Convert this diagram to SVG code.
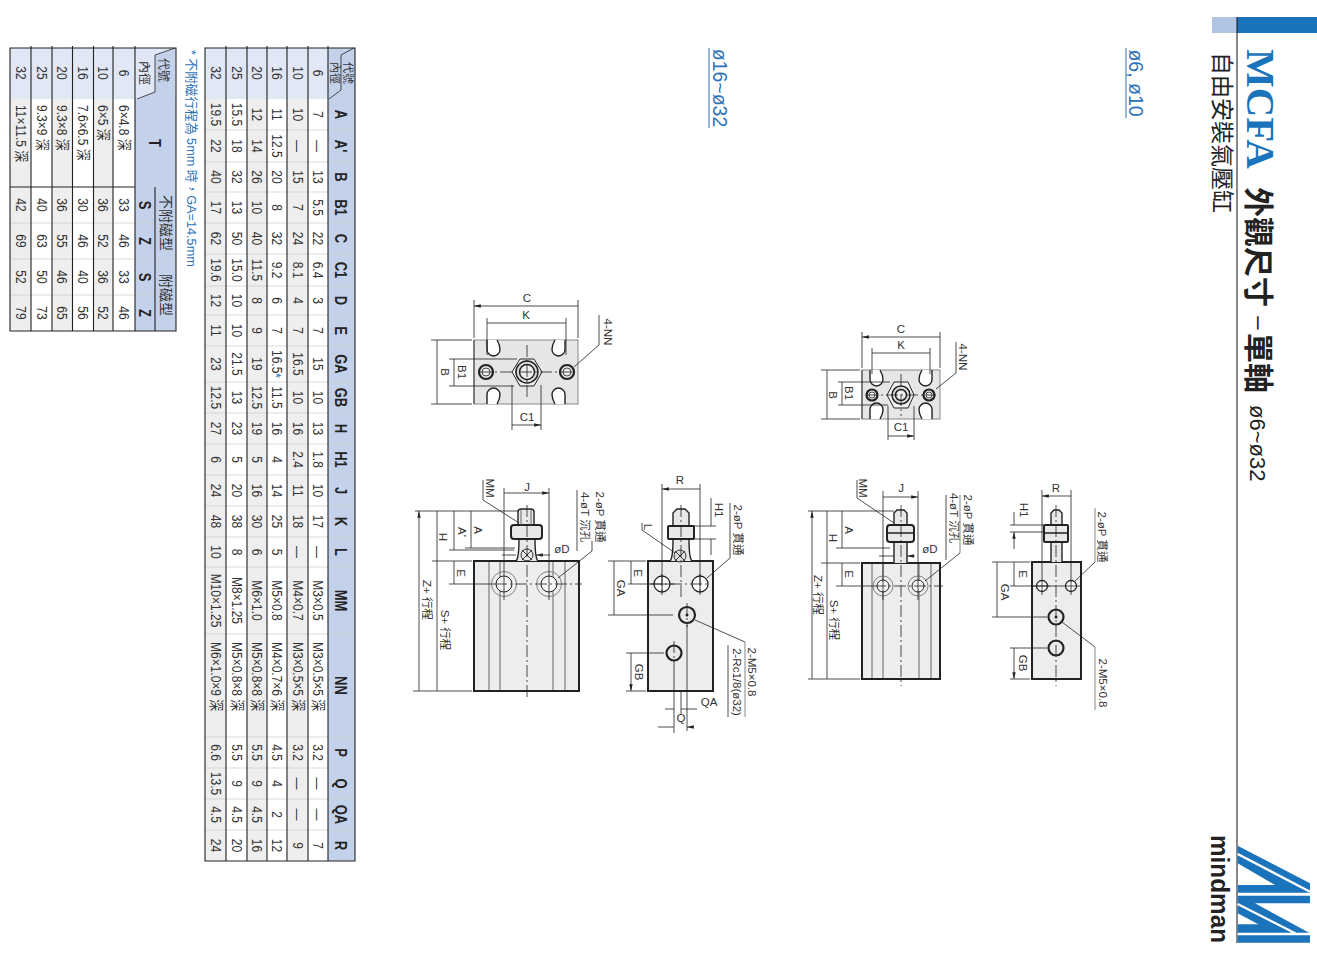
<svg xmlns="http://www.w3.org/2000/svg" xmlns:xlink="http://www.w3.org/1999/xlink" width="1317" height="968" viewBox="0 0 1317 968">
<style>
text{font-family:"Liberation Sans","Noto Sans CJK TC",sans-serif;fill:#333;text-anchor:middle;dominant-baseline:central}
.row text{font-size:12px}
.hd text{font-size:13px;font-weight:bold;fill:#222}
.st{text-anchor:start}
.l{font-size:11.5px;fill:#333}
.c{font-size:11.5px;fill:#333}
.d{stroke:#222;stroke-width:.8;fill:none}
.g{stroke:#999;stroke-width:1.2;fill:none}
.dm{stroke:#222;stroke-width:.8;fill:none;marker-start:url(#a);marker-end:url(#a)}
.e{stroke:#222;stroke-width:.8;fill:none;marker-end:url(#a)}
.cl{stroke:#222;stroke-width:.8;fill:none;stroke-dasharray:12 3 2 3}
.body{fill:#ededed;stroke:#222;stroke-width:2}
.plate{fill:#e6e6e6;stroke:#888;stroke-width:1}
.part{fill:#e8e8e8;stroke:#222;stroke-width:1.4}
.nut{fill:#e8e8e8;stroke:#222;stroke-width:2}
.in{stroke:#666;stroke-width:1;fill:none}
.h1{fill:none;stroke:#777;stroke-width:.9}
.h2{fill:#fff;stroke:#222;stroke-width:1.3}
.h3{fill:#e8e8e8;stroke:#222;stroke-width:2.2}
.grid{stroke:#222;stroke-width:1.1;fill:none}
.div{stroke:#ccc;stroke-width:.7;fill:none}
.b1{fill:#c3d2ea}
.b0{fill:#e1e7f5}
.s1{fill:#eeeeee}
.blue{fill:#1b74bb}
</style>
<defs>
<marker id="a" viewBox="0 0 8 4" refX="8" refY="2" markerUnits="userSpaceOnUse" markerWidth="8" markerHeight="3.4" orient="auto-start-reverse"><path d="M0 0L8 2L0 4z" fill="#222"/></marker>
<path id="slot" d="M-6 0V9.5A6.5 6.5 0 0 0 7 9.5Q7 5 4 0" fill="#fff" stroke="#222" stroke-width="1.4"/>
</defs>
<rect width="1317" height="968" fill="#fff"/>

<g id="table-dimensions">
<rect x="205" y="48" width="150" height="813" fill="#fff"/>
<rect class="b1" x="328" y="48" width="27" height="813"/>
<rect class="b0" x="205" y="48" width="123" height="51"/>
<polygon class="b1" points="354,48 341,55 341,90 329,99 354,99"/>
<rect class="s1" x="205" y="99" width="21" height="762"/>
<rect class="s1" x="247" y="99" width="20" height="762"/>
<rect class="s1" x="287" y="99" width="21" height="762"/>
<path class="div" d="M205 130H355M205 162H355M205 192H355M205 223H355M205 254H355M205 286H355M205 315H355M205 346H355M205 382H355M205 413H355M205 444H355M205 475H355M205 506H355M205 537H355M205 567H355M205 634H355M205 737H355M205 768H355M205 799H355M205 830H355"/>
<path class="grid" d="M205 48H355V861H205ZM226 46V861M247 46V861M267 46V861M287 46V861M308 46V861M328 46V861"/>
<polyline class="d" points="354,48 341,55 341,90 329,99"/>
<g transform="translate(348 73) rotate(90)"><text style="font-size:11px">代號</text></g>
<g transform="translate(335 73) rotate(90)"><text style="font-size:11px">內徑</text></g>
<g class="hd" transform="translate(341 0) rotate(90) scale(1 1.25)"><text x="114.5">A</text><text x="146">A'</text><text x="177">B</text><text x="207.5">B1</text><text x="238.5">C</text><text x="270">C1</text><text x="300.5">D</text><text x="330.5">E</text><text x="364">GA</text><text x="397.5">GB</text><text x="428.5">H</text><text x="459.5">H1</text><text x="490.5">J</text><text x="521.5">K</text><text x="552">L</text><text x="600.5">MM</text><text x="685.5">NN</text><text x="752.5">P</text><text x="783.5">Q</text><text x="814.5">QA</text><text x="845.5">R</text></g>
<g class="row" transform="translate(318 0) rotate(90) scale(1 1.25)"><text x="73">6</text><text x="114.5">7</text><text x="146">—</text><text x="177">13</text><text x="207.5">5.5</text><text x="238.5">22</text><text x="270">6.4</text><text x="300.5">3</text><text x="330.5">7</text><text x="364">15</text><text x="397.5">10</text><text x="428.5">13</text><text x="459.5">1.8</text><text x="490.5">10</text><text x="521.5">17</text><text x="552">—</text><text x="600.5">M3×0.5</text><text class="st" x="642">M3×0.5×5 深</text><text x="752.5">3.2</text><text x="783.5">—</text><text x="814.5">—</text><text x="845.5">7</text></g>
<g class="row" transform="translate(297.5 0) rotate(90) scale(1 1.25)"><text x="73">10</text><text x="114.5">10</text><text x="146">—</text><text x="177">15</text><text x="207.5">7</text><text x="238.5">24</text><text x="270">8.1</text><text x="300.5">4</text><text x="330.5">7</text><text x="364">16.5</text><text x="397.5">10</text><text x="428.5">16</text><text x="459.5">2.4</text><text x="490.5">11</text><text x="521.5">18</text><text x="552">—</text><text x="600.5">M4×0.7</text><text class="st" x="642">M3×0.5×5 深</text><text x="752.5">3.2</text><text x="783.5">—</text><text x="814.5">—</text><text x="845.5">9</text></g>
<g class="row" transform="translate(277 0) rotate(90) scale(1 1.25)"><text x="73">16</text><text x="114.5">11</text><text x="146">12.5</text><text x="177">20</text><text x="207.5">8</text><text x="238.5">32</text><text x="270">9.2</text><text x="300.5">6</text><text x="330.5">7</text><text x="364">16.5<tspan fill="#1b74bb">*</tspan></text><text x="397.5">11.5</text><text x="428.5">16</text><text x="459.5">4</text><text x="490.5">14</text><text x="521.5">25</text><text x="552">5</text><text x="600.5">M5×0.8</text><text class="st" x="642">M4×0.7×6 深</text><text x="752.5">4.5</text><text x="783.5">4</text><text x="814.5">2</text><text x="845.5">12</text></g>
<g class="row" transform="translate(257 0) rotate(90) scale(1 1.25)"><text x="73">20</text><text x="114.5">12</text><text x="146">14</text><text x="177">26</text><text x="207.5">10</text><text x="238.5">40</text><text x="270">11.5</text><text x="300.5">8</text><text x="330.5">9</text><text x="364">19</text><text x="397.5">12.5</text><text x="428.5">19</text><text x="459.5">5</text><text x="490.5">16</text><text x="521.5">30</text><text x="552">6</text><text x="600.5">M6×1.0</text><text class="st" x="642">M5×0.8×8 深</text><text x="752.5">5.5</text><text x="783.5">9</text><text x="814.5">4.5</text><text x="845.5">16</text></g>
<g class="row" transform="translate(236.5 0) rotate(90) scale(1 1.25)"><text x="73">25</text><text x="114.5">15.5</text><text x="146">18</text><text x="177">32</text><text x="207.5">13</text><text x="238.5">50</text><text x="270">15.0</text><text x="300.5">10</text><text x="330.5">10</text><text x="364">21.5</text><text x="397.5">13</text><text x="428.5">23</text><text x="459.5">5</text><text x="490.5">20</text><text x="521.5">38</text><text x="552">8</text><text x="600.5">M8×1.25</text><text class="st" x="642">M5×0.8×8 深</text><text x="752.5">5.5</text><text x="783.5">9</text><text x="814.5">4.5</text><text x="845.5">20</text></g>
<g class="row" transform="translate(215.5 0) rotate(90) scale(1 1.25)"><text x="73">32</text><text x="114.5">19.5</text><text x="146">22</text><text x="177">40</text><text x="207.5">17</text><text x="238.5">62</text><text x="270">19.6</text><text x="300.5">12</text><text x="330.5">11</text><text x="364">23</text><text x="397.5">12.5</text><text x="428.5">27</text><text x="459.5">6</text><text x="490.5">24</text><text x="521.5">48</text><text x="552">10</text><text x="600.5">M10×1.25</text><text class="st" x="642">M6×1.0×9 深</text><text x="752.5">6.6</text><text x="783.5">13.5</text><text x="814.5">4.5</text><text x="845.5">24</text></g>
</g>

<g id="table-stroke">
<rect x="10" y="48" width="166" height="283" fill="#fff"/>
<rect class="b1" x="135" y="48" width="41" height="283"/>
<rect class="b0" x="10" y="48" width="125" height="51"/>
<rect class="b0" x="135" y="48" width="41" height="51"/>
<polygon class="b1" points="175,48 155,55 155,92 137,99 175,99"/>
<rect class="s1" x="10" y="99" width="21" height="232"/>
<rect class="s1" x="52" y="99" width="20.500" height="232"/>
<rect class="s1" x="93.500" y="99" width="19.500" height="232"/>
<path class="div" d="M10 223H155M10 259H176M10 295H155"/>
<path class="grid" d="M10 48H176V331H10ZM31 46V331M52 46V331M72.500 46V331M93.500 46V331M113 46V331M135 46V331M10 187H135"/>
<path class="grid" d="M155 187V331"/>
<polyline class="d" points="175,48 155,55 155,92 137,99"/>
<g transform="translate(163 70) rotate(90)"><text style="font-size:12px">代號</text></g>
<g transform="translate(144 73) rotate(90)"><text style="font-size:12px">內徑</text></g>
<g transform="translate(165.500 223) rotate(90)"><text style="font-size:14px">不附磁型</text></g>
<g transform="translate(165.500 295) rotate(90)"><text style="font-size:14px">附磁型</text></g>
<g class="hd" transform="translate(155 143) rotate(90) scale(1 1.25)"><text>T</text></g>
<g class="hd" transform="translate(145 0) rotate(90) scale(1 1.25)"><text x="205">S</text><text x="241">Z</text><text x="277">S</text><text x="313">Z</text></g>
<g class="row" transform="translate(124 0) rotate(90) scale(1 1.25)"><text x="73">6</text><text class="st" x="105">6×4.8 深</text><text x="205">33</text><text x="241">46</text><text x="277">33</text><text x="313">46</text></g>
<g class="row" transform="translate(103 0) rotate(90) scale(1 1.25)"><text x="73">10</text><text class="st" x="105">6×5 深</text><text x="205">36</text><text x="241">52</text><text x="277">36</text><text x="313">52</text></g>
<g class="row" transform="translate(83 0) rotate(90) scale(1 1.25)"><text x="73">16</text><text class="st" x="105">7.6×6.5 深</text><text x="205">30</text><text x="241">46</text><text x="277">40</text><text x="313">56</text></g>
<g class="row" transform="translate(62 0) rotate(90) scale(1 1.25)"><text x="73">20</text><text class="st" x="105">9.3×8 深</text><text x="205">36</text><text x="241">55</text><text x="277">46</text><text x="313">65</text></g>
<g class="row" transform="translate(41.500 0) rotate(90) scale(1 1.25)"><text x="73">25</text><text class="st" x="105">9.3×9 深</text><text x="205">40</text><text x="241">63</text><text x="277">50</text><text x="313">73</text></g>
<g class="row" transform="translate(20.500 0) rotate(90) scale(1 1.25)"><text x="73">32</text><text class="st" x="105">11×11.5 深</text><text x="205">42</text><text x="241">69</text><text x="277">52</text><text x="313">79</text></g>
</g>
<text class="st" transform="translate(191 50) rotate(90)" style="font-size:12.7px;fill:#2b72b8">* 不附磁行程為 5mm 時，GA=14.5mm</text>

<g id="header">
<rect x="1212" y="17" width="25" height="16" fill="#b0c4e4"/>
<rect class="blue" x="1237" y="17" width="80" height="16"/>
<path d="M1237 17V943" stroke="#111" stroke-width="1"/>
<text class="st" transform="translate(1247 49) rotate(90)" style="font-family:'Liberation Serif',serif;font-weight:bold;font-size:41px;fill:#1b74bb;dominant-baseline:alphabetic">MCFA</text>
<text class="st" transform="translate(1261 187) rotate(90)" style="font-size:30px;font-weight:bold;fill:#222;font-family:'Noto Sans CJK TC',sans-serif">外觀尺寸</text>
<text transform="translate(1260 323) rotate(90)" style="font-size:24px;fill:#222">–</text>
<text class="st" transform="translate(1261 333) rotate(90)" style="font-size:30px;font-weight:bold;fill:#222;font-family:'Noto Sans CJK TC',sans-serif">單軸</text>
<text class="st" transform="translate(1257 405) rotate(90)" style="font-size:22px;fill:#222">ø6~ø32</text>
<text class="st" transform="translate(1224 52) rotate(90)" style="font-size:23px;fill:#222;font-family:'Noto Sans CJK TC',sans-serif">自由安裝氣壓缸</text>
<g id="logo" transform="translate(1200 830) scale(.3333)">
<polygon class="blue" points="113,47 330,160 330,188 113,188 113,165 225,165 113,100"/>
<polygon class="blue" points="113,197 330,197 330,220 165,220 330,310 330,338 113,338 113,283 175,283 113,250"/>
<path d="M113 72L330 185M113 222L290 312M113 312H330" stroke="#fff" stroke-width="7" fill="none"/>
</g>
<text class="st" transform="translate(1211 835) rotate(90)" textLength="108" lengthAdjust="spacingAndGlyphs" style="font-size:25px;font-weight:bold;fill:#222;dominant-baseline:alphabetic">mindman</text>
</g>

<g id="title-16-32"><text transform="translate(720 88) rotate(90)" style="font-size:19.5px;fill:#2b72b8">ø16~ø32</text><path d="M709 48V128" stroke="#2b72b8" stroke-width="1"/></g>
<g id="title-6-10"><text transform="translate(1136 83) rotate(90)" style="font-size:19.5px;fill:#2b72b8">ø6, ø10</text><path d="M1126 48V118" stroke="#2b72b8" stroke-width="1"/></g>

<g id="view-16-32-end">
<rect class="plate" x="474" y="340" width="104" height="64"/>
<path d="M474 340V404" stroke="#666" stroke-width="1.5"/>
<use xlink:href="#slot" href="#slot" transform="translate(493 340)"/>
<use xlink:href="#slot" href="#slot" transform="translate(559 340) scale(-1 1)"/>
<use xlink:href="#slot" href="#slot" transform="translate(493 404) scale(1 -1)"/>
<use xlink:href="#slot" href="#slot" transform="translate(559 404) scale(-1 -1)"/>
<polygon points="512,372 520,359 534,359 542,372 534,386 520,386" fill="#f2f2f2" stroke="#222" stroke-width="1"/>
<circle cx="527" cy="372" r="11" fill="#ddd" stroke="#222" stroke-width="1.500"/>
<circle cx="527" cy="372" r="7.500" fill="#eee" stroke="#222" stroke-width="1.500"/>
<circle class="h3" cx="486" cy="372" r="7"/><circle cx="486" cy="372" r="4" fill="#f2f2f2" stroke="#222" stroke-width=".8"/>
<circle class="h3" cx="567" cy="372" r="7"/><circle cx="567" cy="372" r="4" fill="#f2f2f2" stroke="#222" stroke-width=".8"/>
</g>
<g id="view-6-10-end">
<rect class="plate" x="862" y="370" width="78" height="49"/>
<path d="M862 370V419" stroke="#666" stroke-width="1.500"/>
<use xlink:href="#slot" href="#slot" transform="translate(876 370)"/>
<use xlink:href="#slot" href="#slot" transform="translate(926 370) scale(-1 1)"/>
<use xlink:href="#slot" href="#slot" transform="translate(876 419) scale(1 -1)"/>
<use xlink:href="#slot" href="#slot" transform="translate(926 419) scale(-1 -1)"/>
<polygon points="887,395 894,382 908,382 914,395 908,408 894,408" fill="#f2f2f2" stroke="#222" stroke-width="1"/>
<circle cx="901" cy="395" r="9" fill="#ddd" stroke="#222" stroke-width="1.500"/>
<circle cx="901" cy="395" r="5.500" fill="#eee" stroke="#222" stroke-width="1.500"/>
<circle class="h3" cx="872" cy="395" r="5.500"/><circle cx="872" cy="395" r="3" fill="#f2f2f2" stroke="#222" stroke-width=".8"/>
<circle class="h3" cx="929" cy="395" r="5.500"/><circle cx="929" cy="395" r="3" fill="#f2f2f2" stroke="#222" stroke-width=".8"/>
</g>

<g id="view-16-32-side-a">
<rect class="body" x="474" y="561" width="105" height="130"/>
<path class="in" d="M489 562V690M500 562V690M553 562V690M565 562V690"/>
<path class="part" d="M516 561Q519 558 519 539H535Q535 558 538 561"/>
<path class="part" d="M518 525V512Q518 509 521 509H531Q534 509 534 512V525"/>
<rect class="nut" x="511" y="525" width="31" height="14" rx="3"/>
<path class="in" d="M521 510V525M531 510V525"/>
<circle cx="527" cy="555" r="6" fill="none" stroke="#222" stroke-width=".9"/>
<path d="M522 550L532 560M532 550L522 560" stroke="#222" stroke-width=".9"/>
<circle class="h1" cx="504" cy="584" r="12.500"/><circle cx="504" cy="584" r="8" fill="#f6f6f6" stroke="#222" stroke-width="1"/>
<circle class="h1" cx="549" cy="584" r="12.500"/><circle cx="549" cy="584" r="8" fill="#f6f6f6" stroke="#222" stroke-width="1"/>
</g>
<g id="view-16-32-side-b">
<rect class="body" x="648" y="561" width="65" height="130"/>
<path class="part" d="M670 561Q673 558 673 539H689Q689 558 692 561"/>
<path class="part" d="M673 526V513L677 509H685L689 513V526"/>
<rect class="nut" x="668" y="526" width="26" height="13" rx="1"/>
<circle cx="680" cy="556" r="6" fill="#ddd" stroke="#222" stroke-width=".9"/>
<path d="M675 551L685 561M685 551L675 561" stroke="#222" stroke-width=".9"/>
<circle class="h2" cx="662" cy="584" r="8"/><circle class="h2" cx="700" cy="584" r="8"/>
<circle class="h3" cx="687" cy="615" r="8"/><circle cx="687" cy="615" r="1.500" fill="#222"/>
<circle class="h3" cx="674" cy="653" r="7.500"/>
</g>
<g id="view-6-10-side-a">
<rect class="body" x="862" y="563" width="78" height="116"/>
<path class="in" d="M872 564V678M883 564V678M919 564V678M931 564V678"/>
<path class="part" d="M894 563V542H907V563"/>
<path class="part" d="M894 525V513L897 510H904L907 513V525"/>
<rect class="nut" x="887" y="525" width="27" height="17" rx="3"/>
<path d="M887 533H914" stroke="#222" stroke-width="1.500"/>
<circle class="h1" cx="883" cy="586" r="10"/><circle cx="883" cy="586" r="6" fill="#f6f6f6" stroke="#222" stroke-width="1"/>
<circle class="h1" cx="918" cy="586" r="10"/><circle cx="918" cy="586" r="6" fill="#f6f6f6" stroke="#222" stroke-width="1"/>
</g>
<g id="view-6-10-side-b">
<rect class="body" x="1032" y="562" width="49" height="117"/>
<path class="part" d="M1051 562V542H1062V562"/>
<path class="part" d="M1051 525V513L1054 510H1059L1062 513V525"/>
<rect class="nut" x="1044" y="525" width="24" height="17" rx="1"/>
<path d="M1044 533H1068" stroke="#222" stroke-width="1.500"/>
<circle class="h2" cx="1042" cy="586" r="5.500"/><circle class="h2" cx="1071" cy="586" r="5.500"/>
<circle class="h3" cx="1056" cy="617" r="7.500"/><circle cx="1056" cy="617" r="1.500" fill="#222"/>
<circle class="h3" cx="1056" cy="648" r="7.500"/>
</g>

<g id="connectors">
<path class="cl" d="M480 372H575M527 345V399"/>
<path class="d" d="M474 300V338M578 300V338M487 318V355M566 318V355M431 340H472M431 404H472M449 359H517M449 386H514M512 385V430M541 385V430M599 315V345L574 367"/>
<path class="dm" d="M474 306H578M487 323H566M437 340V404M454 359V386M512 425H541"/>
<path class="cl" d="M866 395H936M901 374V416"/>
<path class="d" d="M862 332V368M940 332V368M872 348V374M930 348V374M821 370H860M821 419H860M838 382H890M838 405H888M888 406V440M914 406V440M956 342V373L936 389"/>
<path class="dm" d="M862 337H940M872 353H930M827 370V419M842 382V405M888 436H914"/>
<path class="cl" d="M527 505V698M495 584H582"/>
<path class="d" d="M415 511H518M413 691H472M432 561H472M449 550H514M465 548H515M449 584H495M504 488V600M549 488V600M483 480V500L519 523M577 490V551"/>
<path class="d" d="M592 541V551L558 578"/>
<path class="dm" d="M419 511V691M437 511V561M437 561V691M454 511V550M471 511V548M454 561V584M504 493H549"/>
<path class="e" d="M502 555H516M550 555H536"/>
<path class="cl" d="M681 505V600M650 584H710M700 574V594M662 574V594M687 603V627M674 641V665"/>
<path class="d" d="M662 484V595M700 484V595M694 526H716M694 539H716M730 503V558L707 578M642 523V530L675 553M608 561H646M628 584H675M608 615H673M626 653H664M626 691H646M745 642L695 620M728 645V717M674 665V733M681 691V715M687 625V731"/>
<path class="g" d="M745 642V717"/>
<path class="dm" d="M662 489H700M631 561V584M614 561V615M631 653V691"/>
<path class="e" d="M711 498V526M711 555V539M665 709H674M697 709H681M658 727H674M694 727H687"/>
<path class="cl" d="M901 505V686M874 586H943"/>
<path class="d" d="M808 511H894M808 679H860M821 563H860M836 548H890M836 586H874M883 491V600M918 491V600M857 480V498L894 523M946 495V560"/>
<path class="g" d="M960 495V553"/>
<path class="d" d="M960 553L925 581"/>
<path class="dm" d="M812 511V679M827 511V563M827 563V679M842 511V548M842 563V586M883 497H918"/>
<path class="e" d="M879 556H894M915 556H907"/>
<path class="cl" d="M1056 505V686"/>
<path class="d" d="M1042 490V595M1071 490V595M1010 525H1044M1010 532H1044M992 562H1030M1010 586H1050M992 617H1047M1010 648H1047M1010 679H1030M1032 586H1080M1095 647L1062 622"/>
<path class="g" d="M1095 508V562M1095 647V710"/>
<path class="d" d="M1095 562L1075 581"/>
<path class="dm" d="M1042 496H1071M1014 562V586M997 562V617M1014 648V679"/>
<path class="e" d="M1014 512V525M1014 549V532"/>
</g>

<g id="labels-16-32">
<text class="l" x="527" y="298">C</text><text class="l" x="526" y="315">K</text><text class="l" x="527" y="417">C1</text>
<text class="l" transform="translate(445 372) rotate(90)">B</text><text class="l" transform="translate(462 372) rotate(90)">B1</text><text class="l" transform="translate(608 332) rotate(90)">4-NN</text>
<text class="l" x="527" y="487">J</text><text class="l" x="562" y="549">øD</text>
<text class="l" transform="translate(490 488) rotate(90)">MM</text>
<text class="c" transform="translate(600 517) rotate(90)">2-øP 貫通</text>
<text class="c" transform="translate(585 517) rotate(90)">4-øT 沉孔</text>
<text class="c" transform="translate(427 600) rotate(90)">Z+ 行程</text>
<text class="c" transform="translate(445 630) rotate(90)">S+ 行程</text>
<text class="l" transform="translate(443 537) rotate(90)">H</text>
<text class="l" transform="translate(462 532) rotate(90)">A'</text>
<text class="l" transform="translate(478 530) rotate(90)">A</text>
<text class="l" transform="translate(461 573) rotate(90)">E</text>
<text class="l" x="680" y="480">R</text>
<text class="l" transform="translate(719 510) rotate(90)">H1</text>
<text class="c" transform="translate(738 530) rotate(90)">2-øP 貫通</text>
<text class="l" transform="translate(648 527) rotate(90)">L</text>
<text class="l" transform="translate(638 573) rotate(90)">E</text>
<text class="l" transform="translate(621 588) rotate(90)">GA</text>
<text class="l" transform="translate(639 672) rotate(90)">GB</text>
<text class="c" transform="translate(752 672) rotate(90)">2-M5×0.8</text>
<text class="c" transform="translate(737 682) rotate(90)">2-Rc1/8(ø32)</text>
<text class="l" x="709" y="702">QA</text><text class="l" x="681" y="718">Q</text>
</g>
<g id="labels-6-10">
<text class="l" x="901" y="329">C</text><text class="l" x="901" y="345">K</text><text class="l" x="901" y="427">C1</text>
<text class="l" transform="translate(833 395) rotate(90)">B</text><text class="l" transform="translate(849 393) rotate(90)">B1</text><text class="l" transform="translate(963 357) rotate(90)">4-NN</text>
<text class="l" x="901" y="488">J</text><text class="l" x="930" y="549">øD</text>
<text class="l" transform="translate(863 488) rotate(90)">MM</text>
<text class="c" transform="translate(968 520) rotate(90)">2-øP 貫通</text>
<text class="c" transform="translate(954 518) rotate(90)">4-øT 沉孔</text>
<text class="c" transform="translate(818 595) rotate(90)">Z+ 行程</text>
<text class="c" transform="translate(834 620) rotate(90)">S+ 行程</text>
<text class="l" transform="translate(833 538) rotate(90)">H</text>
<text class="l" transform="translate(849 530) rotate(90)">A</text>
<text class="l" transform="translate(849 574) rotate(90)">E</text>
<text class="l" x="1056" y="488">R</text>
<text class="l" transform="translate(1024 510) rotate(90)">H1</text>
<text class="c" transform="translate(1102 537) rotate(90)">2-øP 貫通</text>
<text class="l" transform="translate(1023 574) rotate(90)">E</text>
<text class="l" transform="translate(1005 592) rotate(90)">GA</text>
<text class="l" transform="translate(1023 663) rotate(90)">GB</text>
<text class="c" transform="translate(1103 683) rotate(90)">2-M5×0.8</text>
</g>
</svg>
